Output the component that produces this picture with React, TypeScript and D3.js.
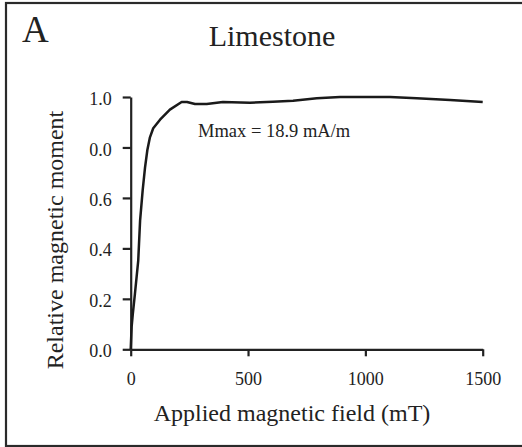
import React, { useEffect, useRef } from "react";
import * as d3 from "d3";

// applied field (mT) vs relative moment
const fieldValues = [0, 4, 9, 18, 32, 40, 51, 61, 71, 82, 96, 125, 167, 217, 240, 274, 324, 393, 508, 606, 692, 793, 892, 990, 1105, 1219, 1361, 1500];
const momentValues = [0, 0.09, 0.14, 0.22, 0.35, 0.51, 0.63, 0.72, 0.79, 0.84, 0.876, 0.91, 0.95, 0.98, 0.98, 0.972, 0.972, 0.98, 0.977, 0.981, 0.985, 0.995, 1.0, 1.0, 1.0, 0.995, 0.988, 0.98];

const xTicks = [0, 500, 1000, 1500];
const yTicks = [0, 0.2, 0.4, 0.6, 0.8, 1.0];
const yTickLabels = ["0.0", "0.2", "0.4", "0.6", "0.0", "1.0"];

const W = 522;
const H = 447;
const serif = "'Liberation Serif', 'Times New Roman', serif";

function App() {
  const ref = useRef<SVGSVGElement>(null);

  useEffect(() => {
    const svg = d3.select(ref.current);
    svg.selectAll("*").remove();

    const xscale = d3.scaleLinear().domain([0, 1500]).range([130.7, 482.7]);
    const yscale = d3.scaleLinear().domain([0, 1]).range([349.3, 97]);

    // frame around the panel (right edge runs off the picture)
    svg.append("rect").attr("x", 6).attr("y", 3).attr("width", 540).attr("height", 443)
      .attr("fill", "none").attr("stroke", "#2a2a2a").attr("stroke-width", 2.2);

    const xg = svg.append("g").attr("transform", `translate(0, ${yscale(0)})`)
      .call(d3.axisBottom(xscale).tickValues(xTicks).tickFormat(d3.format("d")).tickSize(7).tickSizeOuter(0).tickPadding(16));
    const yg = svg.append("g").attr("transform", `translate(${xscale(0)}, 0)`)
      .call(d3.axisLeft(yscale).tickValues(yTicks).tickFormat((d, i) => yTickLabels[i]).tickSize(8).tickSizeOuter(0).tickPadding(11));

    [xg, yg].forEach(g => {
      g.attr("font-family", serif).attr("font-size", 18);
      g.selectAll("path, line").attr("stroke", "#222").attr("stroke-width", 2.2);
      g.selectAll("text").attr("fill", "#222");
    });
    yg.selectAll("text").attr("dy", "0.42em");

    const line = d3.line<number>().x((d, i) => xscale(fieldValues[i])).y(d => yscale(d)).curve(d3.curveLinear);
    svg.append("path").datum(momentValues).attr("d", line).attr("fill", "none")
      .attr("stroke", "#1a1a1a").attr("stroke-width", 2.5).attr("stroke-linejoin", "round");

    svg.append("text").attr("x", 22).attr("y", 42).attr("font-family", serif).attr("font-size", 37)
      .attr("fill", "#222").text("A");
    svg.append("text").attr("x", 272).attr("y", 46).attr("text-anchor", "middle").attr("font-family", serif)
      .attr("font-size", 30).attr("fill", "#222").text("Limestone");
    svg.append("text").attr("x", 198).attr("y", 137).attr("font-family", serif).attr("font-size", 18.5)
      .attr("fill", "#222").text("Mmax = 18.9 mA/m");
    svg.append("text").attr("x", 292).attr("y", 421).attr("text-anchor", "middle").attr("font-family", serif)
      .attr("font-size", 24).attr("fill", "#222").text("Applied magnetic field (mT)");
    svg.append("text").attr("transform", "translate(63, 240) rotate(-90)").attr("text-anchor", "middle")
      .attr("font-family", serif).attr("font-size", 24).attr("fill", "#222").text("Relative magnetic moment");
  }, []);

  return (
    <svg ref={ref} width={W} height={H} style={{ position: "absolute", left: 0, top: 0, background: "#fff" }} />
  );
}

export default App;
